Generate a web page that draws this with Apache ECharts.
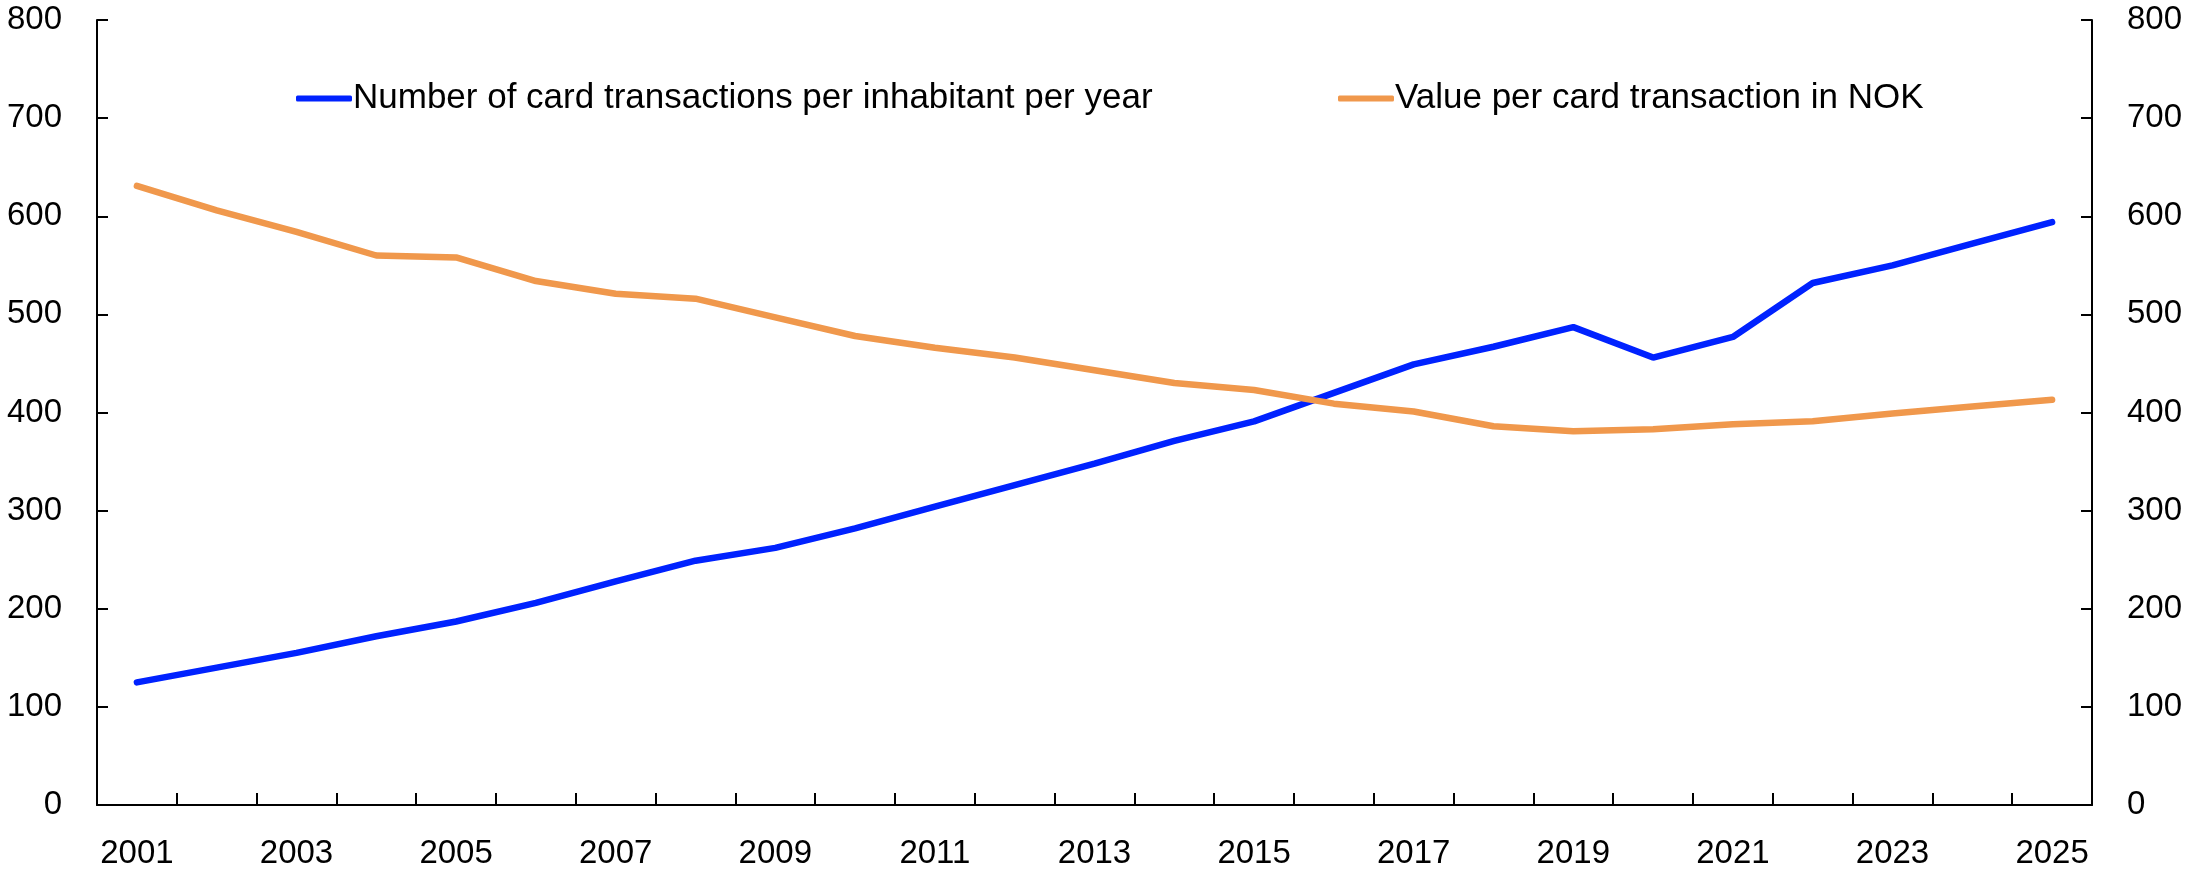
<!DOCTYPE html>
<html>
<head>
<meta charset="utf-8">
<script src="https://cdn.jsdelivr.net/npm/echarts@6/dist/echarts.min.js"></script>
<style>
  html, body { margin: 0; padding: 0; background: #fff; }
  #chart { width: 2186px; height: 872px; }
</style>
</head>
<body>
<div id="chart"></div>
<script>
// years on the x axis
const years = ['2001','2002','2003','2004','2005','2006','2007','2008','2009','2010','2011','2012','2013',
  '2014','2015','2016','2017','2018','2019','2020','2021','2022','2023','2024','2025']
// number of card transactions per inhabitant per year
const txPerInhabitant = [125, 140, 155, 172, 187, 206, 228, 249, 262, 282, 304, 326, 348,
  371, 391, 420, 449, 467, 487, 456, 477, 532, 550, 572, 594]
// value per card transaction in NOK
const valuePerTx = [631, 606, 584, 560, 558, 534, 521, 516, 497, 478, 466, 456, 443,
  430, 423, 409, 401, 386, 381, 383, 388, 391, 399, 406, 413]
const seriesNames = ['Number of card transactions per inhabitant per year', 'Value per card transaction in NOK']

const font = 'Liberation Sans'
const txt = { color: '#000', fontFamily: font, fontSize: 33 }

const yAxisBase = {
  type: 'value',
  min: 0,
  max: 800,
  interval: 100,
  axisLine: { show: true, lineStyle: { color: '#000', width: 2 } },
  axisTick: { show: true, inside: true, length: 11, lineStyle: { color: '#000', width: 2 } },
  splitLine: { show: false },
  axisLabel: { ...txt, margin: 35 },
}

const legendBase = {
  top: 76,
  icon: 'roundRect',
  itemWidth: 56,
  itemHeight: 6,
  itemGap: 0,
  textStyle: { ...txt, fontSize: 35, padding: [0, 0, 0, -4] },
}

const option = {
  animation: false,
  grid: { left: 97, right: 94, top: 20, bottom: 67 },
  legend: [
    { ...legendBase, left: 291, data: [seriesNames[0]] },
    { ...legendBase, left: 1333, data: [seriesNames[1]] },
  ],
  xAxis: {
    type: 'category',
    data: years,
    boundaryGap: true,
    axisLine: { show: true, lineStyle: { color: '#000', width: 2 } },
    axisTick: { show: true, inside: true, length: 12, interval: 0, lineStyle: { color: '#000', width: 2 } },
    axisLabel: { ...txt, interval: 1, margin: 32 },
    splitLine: { show: false },
  },
  yAxis: [
    { ...yAxisBase, position: 'left' },
    { ...yAxisBase, position: 'right' },
  ],
  series: [
    {
      name: seriesNames[0],
      type: 'line',
      data: txPerInhabitant,
      symbol: 'none',
      lineStyle: { color: '#0022FF', width: 6.5, cap: 'round' },
      itemStyle: { color: '#0022FF' },
    },
    {
      name: seriesNames[1],
      type: 'line',
      yAxisIndex: 1,
      data: valuePerTx,
      symbol: 'none',
      lineStyle: { color: '#F0984C', width: 6.5, cap: 'round' },
      itemStyle: { color: '#F0984C' },
    },
  ],
}

const myChart = echarts.init(document.getElementById('chart'))
myChart.setOption(option)
</script>
</body>
</html>
